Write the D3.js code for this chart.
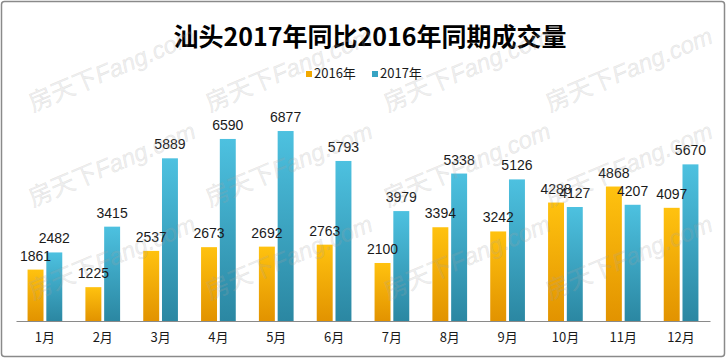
<!DOCTYPE html>
<html><head><meta charset="utf-8">
<script src="https://cdn.jsdelivr.net/npm/d3@7/dist/d3.min.js"></script>
<style>
html,body{margin:0;padding:0;background:#fff;}
svg{display:block;}
</style></head>
<body>
<svg id="chart" width="726" height="358"></svg>
<script>
const title = "汕头2017年同比2016年同期成交量";
const months = ["1月","2月","3月","4月","5月","6月","7月","8月","9月","10月","11月","12月"];
const seriesNames = ["2016年","2017年"];
const values2016 = [1861,1225,2537,2673,2692,2763,2100,3394,3242,4288,4868,4097];
const values2017 = [2482,3415,5889,6590,6877,5793,3979,5338,5126,4127,4207,5670];
const watermark = ["房天下","Fang.com"];

const W = 726, H = 358;
const svg = d3.select("#chart");
const defs = svg.append("defs");

function grad(id, top, bottom){
  const g = defs.append("linearGradient").attr("id", id)
    .attr("x1",0).attr("y1",0).attr("x2",0).attr("y2",1);
  g.append("stop").attr("offset","0%").attr("stop-color",top);
  g.append("stop").attr("offset","100%").attr("stop-color",bottom);
}
grad("gOrange", "#FFC20F", "#E29300");
grad("gBlue", "#4DC1E0", "#2B87A2");
const fills = ["url(#gOrange)","url(#gBlue)"];
const legendColors = ["#F2A900","#37A3C3"];

// border
svg.append("rect").attr("x",1.5).attr("y",1.5).attr("width",W-3).attr("height",H-3)
  .attr("rx",3).attr("fill","#fff").attr("stroke","#8a8a8a").attr("stroke-width",1.5);

// scales
const x0 = d3.scaleBand().domain(months).range([16,710]).paddingInner(0.4).paddingOuter(0.2);
const x1 = d3.scaleBand().domain(seriesNames).range([0,x0.bandwidth()]).paddingInner(0.15);
const y = d3.scaleLinear().domain([0,8000]).range([321,100]);

const data = months.map((m,i)=>({m, vals:[values2016[i], values2017[i]]}));

// bars
const groups = svg.append("g").selectAll("g").data(data).join("g")
  .attr("transform", d=>`translate(${x0(d.m)},0)`);
groups.selectAll("rect").data(d=>d.vals.map((v,k)=>({v,k})))
  .join("rect")
  .attr("x", d=>x1(seriesNames[d.k]))
  .attr("width", x1.bandwidth())
  .attr("y", d=>y(d.v))
  .attr("height", d=>y(0)-y(d.v))
  .attr("fill", d=>fills[d.k]);

// labels
groups.selectAll("text").data(d=>d.vals.map((v,k)=>({v,k})))
  .join("text")
  .attr("x", d=>x1(seriesNames[d.k]) + x1.bandwidth()/2)
  .attr("y", d=>y(d.v) - 9)
  .attr("text-anchor","middle")
  .attr("font-family","'Liberation Sans', Arial, sans-serif")
  .attr("font-size",14)
  .attr("fill","#1a1a1a")
  .text(d=>d.v);

// x axis
const xAxis = d3.axisBottom(x0).tickSize(0).tickPadding(12);
const ax = svg.append("g").attr("transform","translate(0,321)").call(xAxis);
ax.select(".domain").attr("stroke","#8a8a8a").attr("stroke-width",1.2);
ax.selectAll("text")
  .attr("font-family","'Noto Sans CJK SC', sans-serif")
  .attr("font-size",13)
  .attr("fill","#1a1a1a");

// title
svg.append("text").attr("x",370).attr("y",46).attr("text-anchor","middle")
  .attr("font-family","'Noto Sans CJK SC', sans-serif")
  .attr("font-weight","bold").attr("font-size",25).attr("fill","#000")
  .text(title);

// legend
const legendX = [306, 372];
const lg = svg.append("g").selectAll("g").data(seriesNames).join("g")
  .attr("transform",(d,i)=>`translate(${legendX[i]},0)`);
lg.append("rect").attr("x",0).attr("y",71).attr("width",6).attr("height",6)
  .attr("fill",(d,i)=>legendColors[i]);
lg.append("text").attr("x",8).attr("y",77.5)
  .attr("font-family","'Noto Sans CJK SC', sans-serif")
  .attr("font-size",13).attr("fill","#1a1a1a")
  .text(d=>d);

// watermarks
const wm = svg.append("g").attr("pointer-events","none");
const wmX = [33, 210, 388, 550];
const wmY = [112, 207, 300];
wmY.forEach(yy=>wmX.forEach(xx=>{
  const t = wm.append("text")
    .attr("transform",`translate(${xx},${yy}) rotate(-23)`)
    .attr("font-size",24)
    .attr("fill","#a8a8a8").attr("fill-opacity",0.2)
    .attr("stroke","#9a9a9a").attr("stroke-opacity",0.18).attr("stroke-width",0.5);
  t.append("tspan").attr("font-family","'Noto Sans CJK SC', sans-serif").text(watermark[0]);
  t.append("tspan").attr("font-family","'Liberation Sans', Arial, sans-serif")
    .attr("font-style","italic").text(watermark[1]);
}));
</script>
</body></html>
